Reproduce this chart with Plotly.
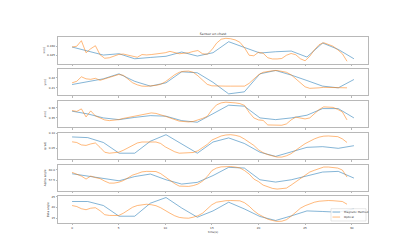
import plotly.graph_objects as go
from plotly.subplots import make_subplots

# ---------------- data ----------------
t_mag = [0.0, 1.68, 3.36, 5.04, 6.72, 8.40, 10.08, 11.76, 13.44, 15.12,
         16.80, 18.48, 20.16, 21.84, 23.52, 25.20, 26.88, 28.56, 30.24]

t_opt = [0.0, 0.5, 1.0, 1.5, 2.0, 2.5, 3.0, 3.5, 4.0, 4.5,
         5.0, 5.5, 6.0, 6.5, 7.0, 7.5, 8.0, 8.5, 9.0, 9.5,
         10.0, 10.5, 11.0, 11.5, 12.0, 12.5, 13.0, 13.5, 14.0, 14.5,
         15.0, 15.5, 16.0, 16.5, 17.0, 17.5, 18.0, 18.5, 19.0, 19.5,
         20.0, 20.5, 21.0, 21.5, 22.0, 22.5, 23.0, 23.5, 24.0, 24.5,
         25.0, 25.5, 26.0, 26.5, 27.0, 27.5, 28.0, 28.5, 29.0, 29.5]

x_mag = [0.42947, 0.42734, 0.42521, 0.42590, 0.42324, 0.42394, 0.42457, 0.42681, 0.42468, 0.42644,
         0.43229, 0.42926, 0.42628, 0.42697, 0.42734, 0.42415, 0.43160, 0.42819, 0.42324]
x_opt = [0.42947, 0.42989, 0.43282, 0.42644, 0.42856, 0.43016, 0.42537, 0.42351, 0.42378, 0.42484,
         0.42553, 0.42574, 0.42521, 0.42431, 0.42404, 0.42548, 0.42527, 0.42548, 0.42574, 0.42601,
         0.42644, 0.42718, 0.42670, 0.42590, 0.42617, 0.42644, 0.42713, 0.42761, 0.42590, 0.42564,
         0.42803, 0.43149, 0.43362, 0.43410, 0.43388, 0.43325, 0.43202, 0.42910, 0.42511, 0.42484,
         0.42670, 0.42617, 0.42378, 0.42314, 0.42314, 0.42340, 0.42511, 0.42606, 0.42537, 0.42324,
         0.42218, 0.42457, 0.42803, 0.43069, 0.43176, 0.43096, 0.42989, 0.42803, 0.42590, 0.42191]

y_mag = [0.2133, 0.2160, 0.2190, 0.2240, 0.2165, 0.2117, 0.2150, 0.2260, 0.2250, 0.2155,
         0.2040, 0.2060, 0.2240, 0.2273, 0.2227, 0.2173, 0.2117, 0.2100, 0.2183]
y_opt = [0.2150, 0.2165, 0.2210, 0.2190, 0.2185, 0.2195, 0.2175, 0.2190, 0.2207, 0.2220,
         0.2233, 0.2225, 0.2190, 0.2150, 0.2130, 0.2117, 0.2115, 0.2117, 0.2125, 0.2135,
         0.2160, 0.2195, 0.2230, 0.2255, 0.2265, 0.2267, 0.2255, 0.2220, 0.2180, 0.2135,
         0.2120, 0.2117, 0.2117, 0.2117, 0.2117, 0.2117, 0.2117, 0.2117, 0.2145, 0.2190,
         0.2230, 0.2255, 0.2265, 0.2270, 0.2273, 0.2267, 0.2255, 0.2230, 0.2190, 0.2145,
         0.2110, 0.2095, 0.2095, 0.2100, 0.2105, 0.2105, 0.2103, 0.2100, 0.2100, 0.2100]

z_mag = [0.3567, 0.3540, 0.3500, 0.3483, 0.3505, 0.3523, 0.3517, 0.3473, 0.3457, 0.3540,
         0.3627, 0.3617, 0.3500, 0.3483, 0.3500, 0.3527, 0.3593, 0.3593, 0.3500]
z_opt = [0.3573, 0.3565, 0.3590, 0.3510, 0.3570, 0.3520, 0.3500, 0.3480, 0.3473, 0.3477,
         0.3483, 0.3495, 0.3505, 0.3513, 0.3520, 0.3533, 0.3545, 0.3550, 0.3545, 0.3533,
         0.3517, 0.3500, 0.3480, 0.3468, 0.3464, 0.3460, 0.3465, 0.3477, 0.3495, 0.3515,
         0.3580, 0.3630, 0.3650, 0.3657, 0.3655, 0.3650, 0.3643, 0.3625, 0.3555, 0.3500,
         0.3480, 0.3475, 0.3430, 0.3427, 0.3427, 0.3427, 0.3440, 0.3480, 0.3508, 0.3500,
         0.3490, 0.3500, 0.3540, 0.3583, 0.3610, 0.3610, 0.3605, 0.3585, 0.3560, 0.3480]

q_mag = [0.08726, 0.08503, 0.06911, 0.03407, 0.03407, 0.07325, 0.09459, 0.06433, 0.03407, 0.07070,
         0.08408, 0.06592, 0.03726, 0.02356, 0.03726, 0.05318, 0.05541, 0.05000, 0.05860]
q_opt = [0.07134, 0.06911, 0.06114, 0.05955, 0.06433, 0.06751, 0.05318, 0.03726, 0.03407, 0.03471,
         0.03726, 0.04363, 0.05159, 0.06114, 0.06751, 0.07070, 0.07134, 0.07134, 0.07070, 0.06592,
         0.05477, 0.04681, 0.03885, 0.03407, 0.03407, 0.03407, 0.03630, 0.04203, 0.05159, 0.06274,
         0.07707, 0.08503, 0.09045, 0.09363, 0.09459, 0.09267, 0.08885, 0.08025, 0.07070, 0.05955,
         0.04522, 0.03566, 0.02929, 0.02515, 0.02133, 0.02133, 0.02547, 0.03248, 0.04458, 0.05477,
         0.06528, 0.07388, 0.08089, 0.08662, 0.08981, 0.09045, 0.09045, 0.08822, 0.08089, 0.06911]

alpha_mag = [59.06, 58.51, 57.88, 57.40, 58.40, 58.99, 57.64, 56.63, 57.03, 58.63,
             60.57, 60.40, 57.64, 57.10, 57.64, 58.58, 59.46, 59.62, 58.04]
alpha_opt = [59.39, 58.99, 58.51, 57.81, 58.51, 58.16, 57.92, 57.33, 56.86, 56.86,
             57.05, 57.45, 58.04, 58.75, 59.10, 59.50, 59.62, 59.62, 59.58, 59.10,
             58.28, 57.45, 56.74, 56.15, 56.08, 56.08, 56.27, 56.63, 57.33, 58.40,
             59.81, 60.40, 60.68, 60.80, 60.76, 60.64, 60.45, 59.81, 58.99, 57.81,
             57.22, 56.39, 55.92, 55.61, 55.45, 55.49, 55.68, 56.39, 57.17, 58.04,
             58.80, 59.46, 59.88, 60.28, 60.64, 60.64, 60.59, 60.40, 59.93, 58.28]

beta_mag = [22.69, 22.69, 20.83, 15.88, 15.88, 21.90, 24.54, 19.68, 15.42, 18.33,
            22.36, 19.26, 15.74, 13.89, 16.02, 18.33, 18.06, 17.73, 19.26]
beta_opt = [20.83, 20.37, 19.35, 18.89, 19.58, 19.81, 18.43, 16.57, 16.25, 16.20,
            16.20, 17.27, 18.66, 20.05, 20.83, 21.30, 21.43, 21.20, 20.74, 19.81,
            18.43, 17.27, 16.11, 15.32, 15.05, 14.95, 15.42, 16.11, 17.27, 19.12,
            21.20, 22.36, 22.82, 23.06, 23.15, 23.10, 23.01, 22.13, 20.51, 18.43,
            16.80, 15.65, 14.49, 13.89, 13.47, 13.56, 14.26, 15.88, 17.73, 19.58,
            20.74, 21.67, 22.36, 22.82, 23.15, 23.15, 23.06, 22.92, 22.69, 21.43]

y_labels = ["x(m)", "y(m)", "z(m)", "q(rad)", "Alpha angle", "Beta angle"]
y_ticks = [[0.425, 0.430], [0.21, 0.22], [0.35, 0.36], [0.05, 0.10], [57.5, 60.0], [15, 20, 25]]
y_ticktext = [["0.425", "0.430"], ["0.21", "0.22"], ["0.35", "0.36"], ["0.05", "0.10"],
              ["57.5", "60.0"], ["15", "20", "25"]]
y_ranges = [[0.42069, 0.43479], [0.2024, 0.2289], [0.3406, 0.3671], [0.0143, 0.1013],
            [54.97, 61.23], [12.73, 25.05]]
x_ticks = [0, 5, 10, 15, 20, 25, 30]
series_names = ["Magnetic Method", "Optical"]
title_text = "Sensor on chest"
x_label = "time(s)"

mag_series = [x_mag, y_mag, z_mag, q_mag, alpha_mag, beta_mag]
opt_series = [x_opt, y_opt, z_opt, q_opt, alpha_opt, beta_opt]

# ---------------- figure ----------------
BLUE = "#1f77b4"
ORANGE = "#ff7f0e"
FONT = "DejaVu Sans"
FRAME = "#b8b8b8"
TXT = "#333333"
LW = 0.55

fig = make_subplots(rows=6, cols=1, shared_xaxes=True, vertical_spacing=0.0285)

for i in range(6):
    fig.add_trace(go.Scatter(x=t_mag, y=mag_series[i], mode="lines", name=series_names[0],
                             line=dict(color=BLUE, width=LW), showlegend=False),
                  row=i + 1, col=1)
    fig.add_trace(go.Scatter(x=t_opt, y=opt_series[i], mode="lines", name=series_names[1],
                             line=dict(color=ORANGE, width=LW), showlegend=False),
                  row=i + 1, col=1)
    fig.update_yaxes(row=i + 1, col=1, range=y_ranges[i], tickvals=y_ticks[i],
                     ticktext=y_ticktext[i],
                     title=dict(text=y_labels[i], font=dict(size=2.8, family=FONT, color=TXT),
                                standoff=2))

fig.update_xaxes(range=[-1.51, 31.75], tickvals=x_ticks, showline=True, mirror=True,
                 linecolor=FRAME, linewidth=0.7, ticks="outside", ticklen=1.5, tickwidth=0.5,
                 tickcolor=FRAME, showgrid=False, zeroline=False,
                 tickfont=dict(size=2.8, family=FONT, color=TXT))
fig.update_yaxes(showline=True, mirror=True, linecolor=FRAME, linewidth=0.7,
                 ticks="outside", ticklen=1.5, tickwidth=0.5, tickcolor=FRAME,
                 showgrid=False, zeroline=False,
                 tickfont=dict(size=2.8, family=FONT, color=TXT))
fig.update_xaxes(row=6, col=1, showticklabels=True,
                 title=dict(text=x_label, font=dict(size=2.8, family=FONT, color=TXT),
                            standoff=1))

# compact legend box (matplotlib-style) in the bottom-right of the last panel
fig.add_shape(type="rect", xref="paper", yref="paper", x0=0.8806, x1=0.9935, y0=0.011, y1=0.077,
              line=dict(color="#d0d0d0", width=0.5), fillcolor="rgba(255,255,255,0.85)", layer="above")
fig.add_shape(type="line", xref="paper", yref="paper", x0=0.8855, x1=0.9100, y0=0.059, y1=0.059,
              line=dict(color=BLUE, width=LW), layer="above")
fig.add_shape(type="line", xref="paper", yref="paper", x0=0.8855, x1=0.9100, y0=0.032, y1=0.032,
              line=dict(color=ORANGE, width=LW), layer="above")
fig.add_annotation(xref="paper", yref="paper", x=0.9161, y=0.059, text=series_names[0],
                   showarrow=False, xanchor="left", yanchor="middle",
                   font=dict(size=2.8, family=FONT, color=TXT))
fig.add_annotation(xref="paper", yref="paper", x=0.9161, y=0.032, text=series_names[1],
                   showarrow=False, xanchor="left", yanchor="middle",
                   font=dict(size=2.8, family=FONT, color=TXT))

fig.update_layout(
    width=400, height=245,
    margin=dict(l=50, r=40, t=29, b=30),
    paper_bgcolor="white", plot_bgcolor="white",
    showlegend=False,
    title=dict(text=title_text, x=0.5, xref="paper", y=1 - 25.5 / 245, yanchor="middle",
               font=dict(size=3.3, family=FONT, color=TXT)),
    font=dict(family=FONT),
)

fig.write_html("out.html")
